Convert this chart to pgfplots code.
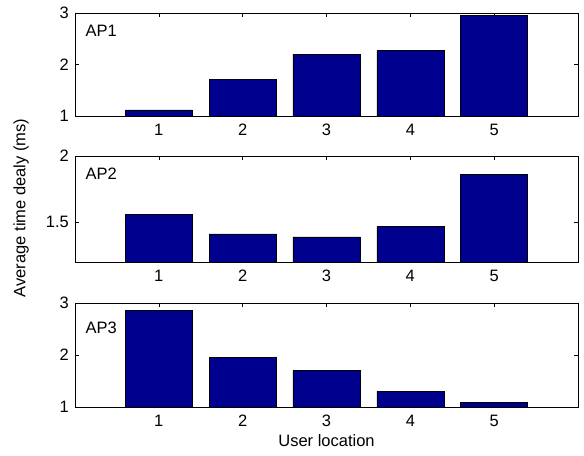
\documentclass[border=0pt]{standalone}
\usepackage{fontspec}
\setmainfont{Liberation Sans}
\usepackage{pgfplots}
\pgfplotsset{compat=1.18}
\definecolor{barblue}{RGB}{0,0,143}
\newcommand{\mfont}{\fontsize{16.5bp}{19bp}\selectfont}
\begin{document}
\mfont
\begin{tikzpicture}
\useasboundingbox (0,0) rectangle (584bp,-456bp);
\pgfplotsset{
  ap/.style={
    scale only axis, width=503bp, anchor=north west,
    xmin=0, xmax=6, xtick={1,2,3,4,5},
    ybar, bar width=0.8,
    tick align=inside, major tick length=4bp,
    /pgf/number format/assume math mode=true,
    ticklabel style={font=\mfont},
    xticklabel style={yshift=-2bp},
    yticklabel style={/pgf/number format/fixed, xshift=-0.5bp},
    axis line style={line width=0.9bp},
    tick style={line width=0.6bp, black},
    clip=true,
  },
  apbar/.style={fill=barblue, draw=black, line width=0.6bp},
}
\begin{axis}[ap, at={(75bp,-13bp)}, height=103bp, ymin=1, ymax=3, ytick={1,2,3}]
  \addplot[apbar] coordinates {(1,1.12) (2,1.71) (3,2.20) (4,2.27) (5,2.95)};
  \node[anchor=west, font=\mfont] at (rel axis cs:0.01,0.83) {AP1};
\end{axis}
\begin{axis}[ap, at={(75bp,-156bp)}, height=106bp, ymin=1.2, ymax=2, ytick={1.5,2}]
  \addplot[apbar] coordinates {(1,1.558) (2,1.412) (3,1.389) (4,1.467) (5,1.861)};
  \node[anchor=west, font=\mfont] at (rel axis cs:0.01,0.83) {AP2};
\end{axis}
\begin{axis}[ap, at={(75bp,-303bp)}, height=104bp, ymin=1, ymax=3, ytick={1,2,3},
  xlabel={User location}, xlabel style={font=\mfont, yshift=3bp}]
  \addplot[apbar] coordinates {(1,2.865) (2,1.96) (3,1.70) (4,1.30) (5,1.09)};
  \node[anchor=west, font=\mfont] at (rel axis cs:0.01,0.76) {AP3};
\end{axis}
\node[rotate=90, font=\mfont] at (21bp,-208bp) {Average time dealy (ms)};
\end{tikzpicture}
\end{document}
